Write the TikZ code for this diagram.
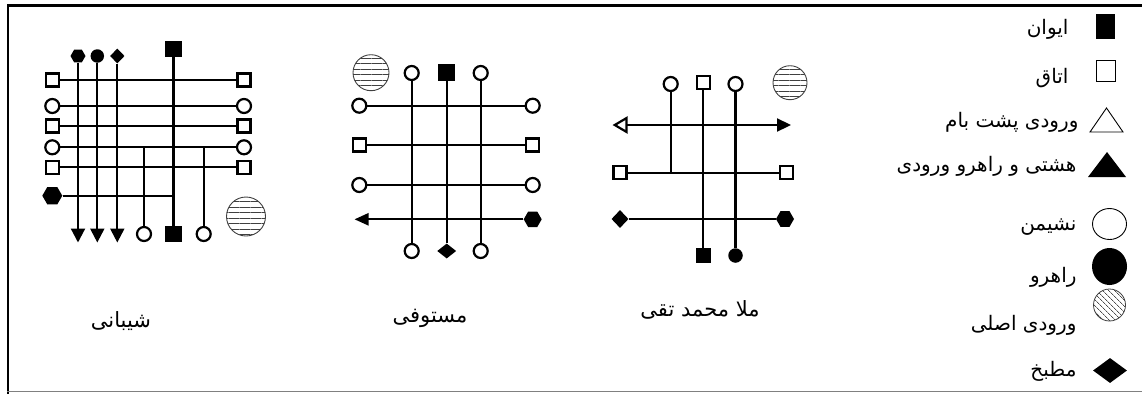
\documentclass[tikz,border=0pt]{standalone}
\usepackage{fontspec}
\newfontfamily\farsi[Script=Arabic]{DejaVu Sans}
\TeXXeTstate=1
\usetikzlibrary{arrows.meta,shapes.geometric,patterns.meta}

\def\unit{1pt}
\tikzset{
  plan/.style={line width=2.2pt},
  room/.style={draw, fill=white, line width=2.2pt, minimum size=13pt, inner sep=0pt},
  iwan/.style={fill=black, minimum size=16.5pt, inner sep=0pt},
  seat/.style={circle, draw, fill=white, line width=2.2pt, minimum size=14pt, inner sep=0pt},
  hall/.style={circle, fill=black, minimum size=14.5pt, inner sep=0pt},
  kitchen/.style={diamond, fill=black, minimum width=17pt, minimum height=16pt, inner sep=0pt},
  hexa/.style={regular polygon, regular polygon sides=6, fill=black, minimum size=18pt, inner sep=0pt},
  mainentry/.style={circle, draw=black!75, line width=0.9pt, minimum size=39pt, inner sep=0pt,
    pattern={Lines[angle=0,distance=5.5pt,line width=1pt]}, pattern color=black!75},
  tip/.style={-{Triangle[width=14pt,length=14pt]}},
  caption/.style={font=\farsi\fontsize{21}{24}\selectfont},
  legendtext/.style={anchor=east, font=\farsi\fontsize{20}{24}\selectfont},
}

\begin{document}
\begin{tikzpicture}[x=\unit, y=-\unit]
  \useasboundingbox (0,0) rectangle (1142,394);
  % frame
  \draw[line width=3pt] (7,5) -- (1142,5);
  \draw[line width=2pt] (8,4) -- (8,394);
  \draw[gray, line width=1pt] (7,391) -- (1142,391);

  % Shibani
  \node[hexa, minimum size=15pt] (a1t) at (78,56) {};
  \node[hall, minimum size=13.5pt] (a2t) at (97.3,56) {};
  \node[kitchen, minimum width=14.5pt, minimum height=15pt] (a3t) at (117.3,56) {};
  \node[iwan] (a4t) at (173.5,49) {};
  \node[iwan] (a4b) at (173.5,234) {};
  \foreach \n/\x in {1/78,2/97.3,3/117.3} {
    \coordinate (a\n b) at (\x,242.5);
    \draw[plan, tip] (a\n t) -- (a\n b);
  }
  \draw[plan] (a4t) -- (a4b);
  \foreach \r/\y/\s in {1/80/room,2/106/seat,3/126/room,4/147.3/seat,5/167.3/room} {
    \node[\s] (a\r l) at (52.3,\y) {};
    \node[\s] (a\r r) at (244,\y) {};
    \draw[plan] (a\r l) -- (a\r r);
  }
  \node[hexa, minimum size=20pt] (a6l) at (52.3,195.7) {};
  \coordinate (a6r) at (173.5,195.7);
  \draw[plan] (a6l) -- (a6r);
  \foreach \n/\x in {5/144,6/203.7} {
    \coordinate (a\n t) at (\x,147.3);
    \node[seat] (a\n b) at (\x,234) {};
    \draw[plan] (a\n t) -- (a\n b);
  }
  \node[mainentry] (a0) at (246,216.5) {};
  \node[caption] (acap) at (121,321) {\beginR شیبانی\endR};

  % Mostowfi
  \node[seat] (b1t) at (411.7,73) {};
  \node[iwan] (b2t) at (446.7,72.7) {};
  \node[seat] (b3t) at (480.7,73) {};
  \node[seat] (b1b) at (411.7,251) {};
  \node[kitchen, minimum width=19pt, minimum height=15pt] (b2b) at (446.7,251) {};
  \node[seat] (b3b) at (480.7,251) {};
  \foreach \n in {1,2,3}
    \draw[plan] (b\n t) -- (b\n b);
  \foreach \r/\y/\s in {1/105.7/seat,2/145/room,3/185/seat} {
    \node[\s] (b\r l) at (359.3,\y) {};
    \node[\s] (b\r r) at (532.7,\y) {};
    \draw[plan] (b\r l) -- (b\r r);
  }
  \coordinate (b4l) at (354.5,219.3);
  \node[hexa] (b4r) at (532.7,219.3) {};
  \draw[plan, -{Triangle[width=12pt,length=14pt]}] (b4r) -- (b4l);
  \node[mainentry, minimum size=36pt] (b0) at (371,72.7) {};
  \node[caption] (bcap) at (430,318) {\beginR مستوفی\endR};

  % Molla Mohammad Taghi
  \node[seat] (c1t) at (670.7,84) {};
  \node[room] (c2t) at (703.3,82.5) {};
  \node[seat] (c3t) at (735.5,84) {};
  \coordinate (c1b) at (670.7,172.7);
  \node[iwan, minimum size=15.5pt] (c2b) at (703.3,255.5) {};
  \node[hall] (c3b) at (735.5,255.5) {};
  \foreach \n in {1,2,3}
    \draw[plan] (c\n t) -- (c\n b);
  \coordinate (c1l) at (612.5,125);
  \coordinate (c1r) at (791,125);
  \draw[plan, {Triangle[open,fill=white,width=17pt,length=15pt]}-{Triangle[width=13pt,length=14pt]}] (c1l) -- (c1r);
  \node[room] (c2l) at (620,172.7) {};
  \node[room] (c2r) at (786.7,172.7) {};
  \draw[plan] (c2l) -- (c2r);
  \node[kitchen, minimum width=17pt, minimum height=18pt] (c3l) at (620,219) {};
  \node[hexa] (c3r) at (785,219) {};
  \draw[plan] (c3l) -- (c3r);
  \node[mainentry, minimum size=34pt] (c0) at (790,82.7) {};
  \node[caption] (ccap) at (700,310) {\beginR ملا محمد تقی\endR};

  % legend
  \node[fill=black, minimum width=19pt, minimum height=25pt, inner sep=0pt] (k1) at (1105,26.5) {};
  \node[draw, line width=0.9pt, minimum width=19pt, minimum height=21pt, inner sep=0pt] (k2) at (1106,71) {};
  \draw[line width=0.9pt] (1090,132) -- (1123,132) -- (1106.5,108) -- cycle;
  \fill (1088,177) -- (1126,177) -- (1107,152) -- cycle;
  \node[ellipse, draw, line width=0.9pt, minimum width=34pt, minimum height=31pt, inner sep=0pt] (k5) at (1109.5,224) {};
  \node[ellipse, fill=black, minimum width=35pt, minimum height=37pt, inner sep=0pt] (k6) at (1109.5,266.5) {};
  \node[circle, draw=black!75, line width=0.8pt, minimum size=32pt, inner sep=0pt,
    pattern={Lines[angle=-45,distance=4pt,line width=0.8pt]}, pattern color=black!70] (k7) at (1109.5,305) {};
  \node[diamond, fill=black, minimum width=34pt, minimum height=25pt, inner sep=0pt] (k8) at (1110,370.5) {};
  \node[legendtext] (t1) at (1072,29) {\beginR ایوان\endR};
  \node[legendtext] (t2) at (1072,78) {\beginR اتاق\endR};
  \node[legendtext] (t3) at (1082,122) {\beginR ورودی پشت بام\endR};
  \node[legendtext] (t4) at (1080,166) {\beginR هشتی و راهرو ورودی\endR};
  \node[legendtext] (t5) at (1080,227) {\beginR نشیمن\endR};
  \node[legendtext] (t6) at (1080,277) {\beginR راهرو\endR};
  \node[legendtext] (t7) at (1080,325) {\beginR ورودی اصلی\endR};
  \node[legendtext] (t8) at (1080,371) {\beginR مطبخ\endR};
\end{tikzpicture}
\end{document}
